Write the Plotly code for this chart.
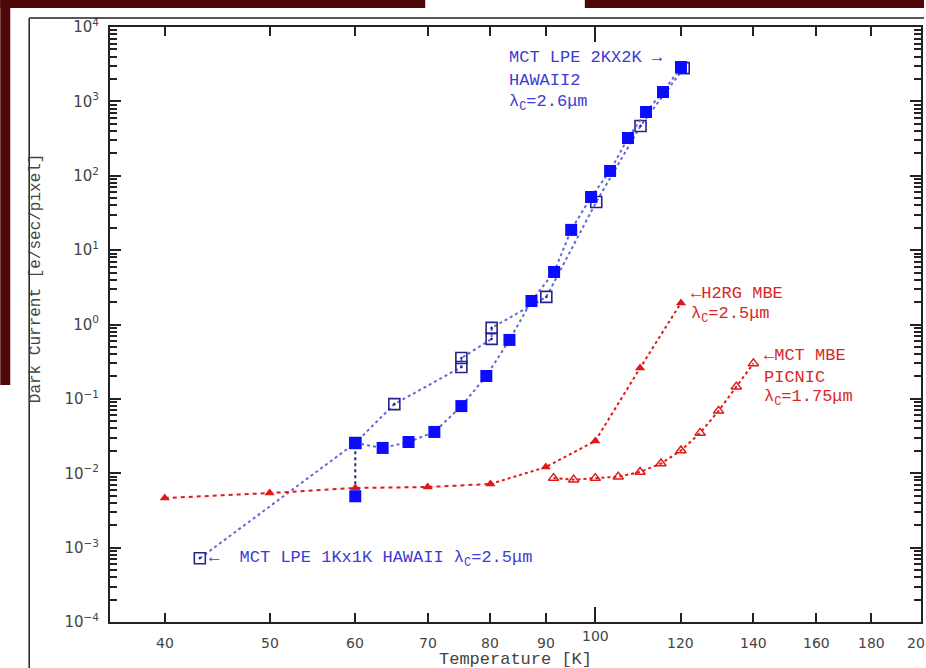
import math
import plotly.graph_objects as go

# ---------------- data ----------------
# MCT LPE 2Kx2K HAWAII2 (filled squares)
hawaii2_T = [60, 60, 63.6, 67.2, 71.0, 75.2, 79.3, 83.3, 87.3, 91.6, 95.0, 99.1, 103.2, 107.2, 111.4, 115.5, 120.0]
hawaii2_I = [0.0049, 0.0255, 0.0219, 0.0263, 0.0359, 0.080, 0.203, 0.62, 2.07, 5.08, 18.7, 51.8, 116, 322, 720, 1337, 2900]

# MCT LPE 1Kx1K HAWAII (open squares)
hawaii1_T = [43.1, 60, 65.2, 75.2, 75.2, 80.2, 80.2, 90.1, 100.2, 110.1, 120.7]
hawaii1_I = [0.00072, 0.0255, 0.085, 0.268, 0.354, 0.64, 0.90, 2.35, 44.4, 467, 2800]

# H2RG MBE (filled triangles)
h2rg_T = [40, 50, 60, 70, 80, 90, 100, 110, 120]
h2rg_I = [0.00464, 0.00542, 0.00634, 0.00653, 0.00717, 0.0121, 0.0272, 0.26, 1.95]

# MCT MBE PICNIC (open triangles)
picnic_T = [91.5, 95.5, 100, 105, 110, 115, 120, 125, 130, 135, 140]
picnic_I = [0.0086, 0.0082, 0.0086, 0.0090, 0.0104, 0.0135, 0.0202, 0.0349, 0.069, 0.146, 0.30]

x_ticks = [40, 50, 60, 70, 80, 90, 100, 120, 140, 160, 180, 200]
x_tick_labels = ["40", "50", "60", "70", "80", "90", "100", "120", "140", "160", "180", "20"]
y_ticks = [1e-4, 1e-3, 1e-2, 1e-1, 1e0, 1e1, 1e2, 1e3, 1e4]
y_tick_labels = ["10<sup>\u22124</sup>", "10<sup>\u22123</sup>", "10<sup>\u22122</sup>", "10<sup>\u22121</sup>",
                 "10<sup>0</sup>", "10<sup>1</sup>", "10<sup>2</sup>", "10<sup>3</sup>", "10<sup>4</sup>"]
y_minor_ticks = [m * 10.0 ** e for e in range(-4, 4) for m in range(2, 10)]

# ---------------- layout geometry ----------------
W, H = 926, 668
L, R, T, B = 110, 923, 27, 622


def px(x):
    return (x - L) / (R - L)


def py(y):
    return (B - y) / (B - T)


BLUE = "#0b0bff"
NAVY = "#24248c"
BLUE_LINE = "#6868d4"
RED = "#e01818"
MONO = "Liberation Mono"

fig = go.Figure()

# open-square series (drawn first)
fig.add_trace(go.Scatter(
    x=hawaii1_T, y=hawaii1_I, mode="lines+markers",
    line=dict(color=BLUE_LINE, width=2, dash="dot"),
    marker=dict(symbol="square-open-dot", size=11, color=NAVY, line=dict(color=NAVY, width=1.6)),
    showlegend=False))

# vertical connector between the two 60 K filled points
fig.add_trace(go.Scatter(
    x=hawaii2_T[:2], y=hawaii2_I[:2], mode="lines",
    line=dict(color=NAVY, width=2, dash="dot"), showlegend=False))

fig.add_trace(go.Scatter(
    x=hawaii2_T[1:], y=hawaii2_I[1:], mode="lines",
    line=dict(color=BLUE_LINE, width=2, dash="dot"), showlegend=False))

# H2RG lines: dashed at low T, dotted above
fig.add_trace(go.Scatter(
    x=h2rg_T[:5], y=h2rg_I[:5], mode="lines",
    line=dict(color=RED, width=2, dash="4px,4px"), showlegend=False))
fig.add_trace(go.Scatter(
    x=h2rg_T[4:], y=h2rg_I[4:], mode="lines",
    line=dict(color=RED, width=2, dash="dot"), showlegend=False))
fig.add_trace(go.Scatter(
    x=h2rg_T, y=h2rg_I, mode="markers",
    marker=dict(symbol="triangle-up", size=9, color=RED), showlegend=False))

fig.add_trace(go.Scatter(
    x=picnic_T, y=picnic_I, mode="lines+markers",
    line=dict(color=RED, width=2, dash="dot"),
    marker=dict(symbol="triangle-up-open", size=9, color=RED, line=dict(color=RED, width=1.5)),
    showlegend=False))

fig.add_trace(go.Scatter(
    x=hawaii2_T, y=hawaii2_I, mode="markers",
    marker=dict(symbol="square", size=12, color=BLUE, line=dict(color=BLUE, width=0)),
    showlegend=False))

# ---------------- axes ----------------
x_major = [100]
x_minor = [v for v in x_ticks if v != 100]
fig.update_xaxes(
    type="log", range=[math.log10(35.6), math.log10(200)],
    showgrid=False, zeroline=False,
    showline=True, linecolor="#222", linewidth=2, mirror="allticks",
    ticks="inside", tickvals=x_major, ticklen=15, tickwidth=2, tickcolor="#222",
    showticklabels=False,
    minor=dict(tickvals=x_minor, ticks="inside", ticklen=9, tickwidth=2, tickcolor="#222", showgrid=False),
)
fig.update_yaxes(
    type="log", range=[-4, 4],
    showgrid=False, zeroline=False,
    showline=True, linecolor="#222", linewidth=2, mirror="allticks",
    ticks="inside", tickvals=y_ticks, ticktext=y_tick_labels, ticklen=11, tickwidth=2, tickcolor="#222",
    tickfont=dict(family="DejaVu Sans", size=15, color="#444"),
    ticklabelstandoff=6,
    minor=dict(tickvals=y_minor_ticks, ticks="inside", ticklen=7, tickwidth=1.5, tickcolor="#222", showgrid=False),
)

annotations = []
# x tick labels
for v, lab in zip(x_ticks, x_tick_labels):
    yy = 636 if v == 100 else 643
    if lab == "20":
        annotations.append(dict(x=1.0, y=py(yy), xref="paper", yref="paper", text=lab,
                                showarrow=False, xanchor="left", yanchor="middle", xshift=-16,
                                font=dict(family="DejaVu Sans", size=14, color="#444")))
        continue
    annotations.append(dict(x=math.log10(v), y=py(yy), xref="x", yref="paper", text=lab,
                            showarrow=False, xanchor="center", yanchor="middle",
                            font=dict(family="DejaVu Sans", size=14, color="#444")))


def label(x, y, text, color, size=17):
    annotations.append(dict(x=px(x), y=py(y), xref="paper", yref="paper", text=text,
                            showarrow=False, xanchor="left", yanchor="middle",
                            font=dict(family=MONO, size=size, color=color)))


LBLUE = "#3c3cd2"
LRED = "#d82828"
label(508, 57, "MCT LPE 2KX2K \u2192", LBLUE)
label(508, 80, "HAWAII2", LBLUE)
label(508, 103, "\u03bb<sub>C</sub>=2.6\u03bcm", LBLUE)
label(207, 559, "\u2190  MCT LPE 1Kx1K HAWAII \u03bb<sub>C</sub>=2.5\u03bcm", LBLUE)
label(690, 293, "\u2190H2RG MBE", LRED)
label(690, 315, "\u03bb<sub>C</sub>=2.5\u03bcm", LRED)
label(764, 355, "\u2190MCT MBE", LRED)
label(764, 377, "PICNIC", LRED)
label(764, 398, "\u03bb<sub>C</sub>=1.75\u03bcm", LRED)

# axis titles
annotations.append(dict(x=px(517), y=py(659), xref="paper", yref="paper", text="Temperature [K]",
                        showarrow=False, xanchor="center", yanchor="middle",
                        font=dict(family=MONO, size=17, color="#444")))
annotations.append(dict(x=px(36), y=py(278), xref="paper", yref="paper", text="Dark Current [e/sec/pixel]",
                        showarrow=False, xanchor="center", yanchor="middle", textangle=-90,
                        font=dict(family=MONO, size=16, color="#444")))

# ---------------- decoration shapes ----------------
MAROON = "#4e0707"
shapes = [
    dict(type="rect", xref="paper", yref="paper", x0=px(0), x1=px(426), y0=py(0), y1=py(8),
         fillcolor=MAROON, line=dict(width=0), layer="below"),
    dict(type="rect", xref="paper", yref="paper", x0=px(586), x1=px(926), y0=py(0), y1=py(8),
         fillcolor=MAROON, line=dict(width=0), layer="below"),
    dict(type="rect", xref="paper", yref="paper", x0=px(0), x1=px(10), y0=py(0), y1=py(385),
         fillcolor=MAROON, line=dict(width=0), layer="below"),
    dict(type="line", xref="paper", yref="paper", x0=px(29), x1=px(29), y0=py(18), y1=py(668),
         line=dict(color="#222", width=1.5)),
    dict(type="line", xref="paper", yref="paper", x0=px(29), x1=px(926), y0=py(18), y1=py(18),
         line=dict(color="#222", width=1.5)),
]

fig.update_layout(
    width=W, height=H,
    margin=dict(l=L, r=W - R, t=T, b=H - B, pad=0),
    paper_bgcolor="white", plot_bgcolor="white",
    showlegend=False,
    annotations=annotations,
    shapes=shapes,
)

fig.write_html("out.html")
